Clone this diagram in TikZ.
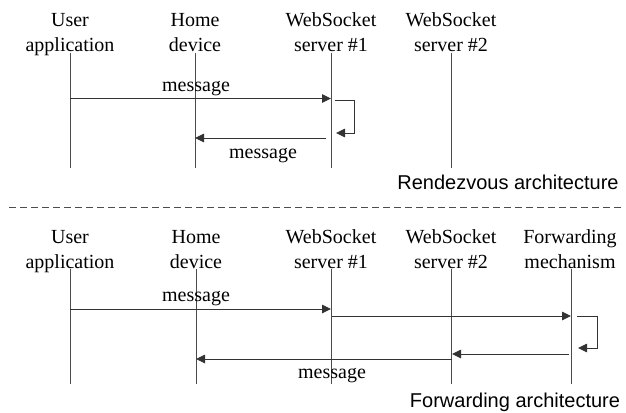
\documentclass[tikz,border=0pt]{standalone}
\usepackage{fontspec}
\setmainfont{Liberation Serif}
\newfontfamily\archfont{Liberation Sans}
\usetikzlibrary{arrows.meta}

\begin{document}
\begin{tikzpicture}[x=1pt,y=-1pt]
            \tikzset{every node/.style={inner sep=0pt,anchor=base,font=\fontsize{20}{25}\selectfont,align=center},
              life/.style={draw=black!70,line width=0.9pt},
              msg/.style={draw=black!80,line width=0.9pt,-{Triangle[length=9pt,width=8.5pt]}},
              title/.style={font=\archfont\fontsize{20}{23}\selectfont}}
            \useasboundingbox (0,0) rectangle (626,412);
            % rendezvous architecture
            \node (ua1) at (70,52) {User\\application};
            \node (hd1) at (195,52) {Home\\device};
            \node (wa1) at (331,52) {WebSocket\\server \#1};
            \node (wb1) at (451,52) {WebSocket\\server \#2};
            \coordinate (ua1t) at (70,53);  \coordinate (ua1b) at (70,168);
            \coordinate (hd1t) at (195,53); \coordinate (hd1b) at (195,168);
            \coordinate (wa1t) at (331,53); \coordinate (wa1b) at (331,168);
            \coordinate (wb1t) at (451,53); \coordinate (wb1b) at (451,168);
            \draw [life] (ua1t) -- (ua1b);
            \draw [life] (hd1t) -- (hd1b);
            \draw [life] (wa1t) -- (wa1b);
            \draw [life] (wb1t) -- (wb1b);
            \coordinate (m1s) at (70,98.5);  \coordinate (m1e) at (331,98.5);
            \draw [msg] (m1s) -- (m1e);
            \node (m1l) at (196,91) {message};
            \coordinate (l1s) at (335,100); \coordinate (l1e) at (336,133);
            \draw [msg] (l1s) -| (354,133) -- (l1e);
            \coordinate (m2s) at (326,138); \coordinate (m2e) at (195,138);
            \draw [msg] (m2s) -- (m2e);
            \node (m2l) at (263,158) {message};
            \node [title] (rv) at (508,189) {Rendezvous architecture};
            \draw [black!70,line width=0.9pt,dash pattern=on 7pt off 4pt] (9,207) -- (621,207);
            % forwarding architecture
            \node (ua2) at (70,268) {User\\application};
            \node (hd2) at (196,268) {Home\\device};
            \node (wa2) at (331,268) {WebSocket\\server \#1};
            \node (wb2) at (451,268) {WebSocket\\server \#2};
            \node (fm2) at (570,268) {Forwarding\\mechanism};
            \coordinate (ua2t) at (70,269);  \coordinate (ua2b) at (70,384);
            \coordinate (hd2t) at (196,269); \coordinate (hd2b) at (196,384);
            \coordinate (wa2t) at (331,269); \coordinate (wa2b) at (331,384);
            \coordinate (wb2t) at (451,269); \coordinate (wb2b) at (451,384);
            \coordinate (fm2t) at (571,269); \coordinate (fm2b) at (571,384);
            \draw [life] (ua2t) -- (ua2b);
            \draw [life] (hd2t) -- (hd2b);
            \draw [life] (wa2t) -- (wa2b);
            \draw [life] (wb2t) -- (wb2b);
            \draw [life] (fm2t) -- (fm2b);
            \coordinate (n1s) at (70,309);  \coordinate (n1e) at (331,309);
            \draw [msg] (n1s) -- (n1e);
            \node (n1l) at (196,301) {message};
            \coordinate (n2s) at (332,316); \coordinate (n2e) at (571,316);
            \draw [msg] (n2s) -- (n2e);
            \coordinate (l2s) at (577,316); \coordinate (l2e) at (578,348);
            \draw [msg] (l2s) -| (597,348) -- (l2e);
            \coordinate (n3s) at (569,354); \coordinate (n3e) at (452,354);
            \draw [msg] (n3s) -- (n3e);
            \coordinate (n4s) at (452,359); \coordinate (n4e) at (196,359);
            \draw [msg] (n4s) -- (n4e);
            \node (n4l) at (332,378) {message};
            \node [title] (fw) at (515,407) {Forwarding architecture};
            \end{tikzpicture}
\end{document}
